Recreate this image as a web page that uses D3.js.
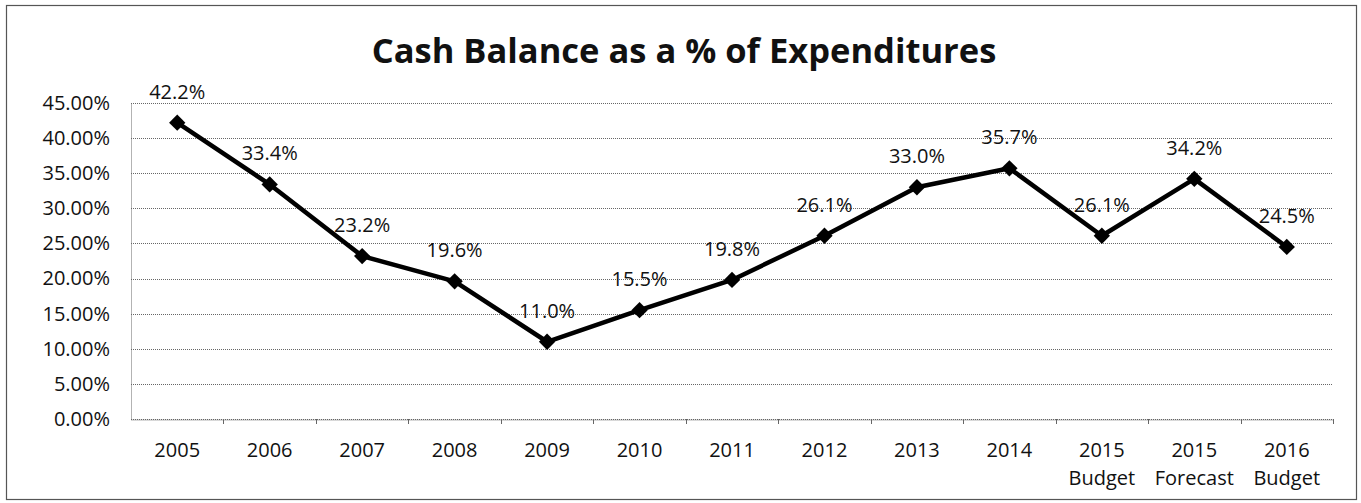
<!DOCTYPE html>
<html>
<head>
<meta charset="utf-8">
<script src="https://cdn.jsdelivr.net/npm/d3@7"></script>
<style>
  body { margin: 0; background: #fff; }
  text { font-family: "Open Sans", Lato, sans-serif; fill: #111; }
</style>
</head>
<body>
<svg id="chart" width="1361" height="503"></svg>
<script>
// chart data
const categories = ['2005', '2006', '2007', '2008', '2009', '2010', '2011', '2012', '2013', '2014',
  '2015\nBudget', '2015\nForecast', '2016\nBudget'];
const values = [42.2, 33.4, 23.2, 19.6, 11.0, 15.5, 19.8, 26.1, 33.0, 35.7, 26.1, 34.2, 24.5];
const yTicks = [0, 5, 10, 15, 20, 25, 30, 35, 40, 45];
const title = 'Cash Balance as a % of Expenditures';

const svg = d3.select('#chart');
const plot = {left: 131, right: 1333, top: 103, bottom: 419};

// outer frame
svg.append('rect')
  .attr('x', 6.5).attr('y', 5.5)
  .attr('width', 1350).attr('height', 494)
  .attr('fill', 'none').attr('stroke', '#555').attr('stroke-width', 1.2);

svg.append('text')
  .attr('x', 684).attr('y', 63)
  .attr('text-anchor', 'middle')
  .style('font-size', '34.5px').style('font-weight', 'bold')
  .text(title);

const x = d3.scaleBand().domain(categories).range([plot.left, plot.right]);
const y = d3.scaleLinear().domain([0, 45]).range([plot.bottom, plot.top]);

// horizontal gridlines
svg.append('g').selectAll('line')
  .data(yTicks)
  .join('line')
  .attr('x1', plot.left).attr('x2', plot.right)
  .attr('y1', d => Math.round(y(d)) + 0.5).attr('y2', d => Math.round(y(d)) + 0.5)
  .attr('stroke', '#666').attr('stroke-dasharray', '1,1');

// y axis
const yAxis = svg.append('g')
  .attr('transform', `translate(${plot.left},0)`)
  .call(d3.axisLeft(y).tickValues(yTicks).tickSize(0).tickPadding(21)
    .tickFormat(d => d.toFixed(2) + '%'));
yAxis.select('.domain').attr('stroke', '#666').attr('stroke-dasharray', '1,1');
yAxis.selectAll('text').style('font-size', '20px').style('font-family', '"Open Sans", sans-serif');

// x axis
const xAxis = svg.append('g')
  .attr('transform', `translate(0,${Math.round(plot.bottom) + 0.5})`)
  .call(d3.axisBottom(x).tickSize(0).tickFormat(''));
xAxis.select('.domain').attr('stroke', '#666').attr('stroke-dasharray', '1,1');

// category boundary ticks
svg.append('g').selectAll('line')
  .data(categories)
  .join('line')
  .attr('x1', d => Math.round(x(d) + x.bandwidth()) + 0.5)
  .attr('x2', d => Math.round(x(d) + x.bandwidth()) + 0.5)
  .attr('y1', plot.bottom).attr('y2', plot.bottom + 5)
  .attr('stroke', '#666');

// category labels (two lines for some)
const xl = svg.append('g').selectAll('text')
  .data(categories)
  .join('text')
  .attr('text-anchor', 'middle')
  .attr('x', d => x(d) + x.bandwidth() / 2)
  .attr('y', 457)
  .style('font-size', '20px');
xl.selectAll('tspan')
  .data(d => d.split('\n'))
  .join('tspan')
  .attr('x', function() { return this.parentNode.getAttribute('x'); })
  .attr('dy', (d, i) => i === 0 ? 0 : 28)
  .text(d => d);

const cx = (d, i) => x(categories[i]) + x.bandwidth() / 2;

// series line
svg.append('path')
  .datum(values)
  .attr('fill', 'none')
  .attr('stroke', '#000')
  .attr('stroke-width', 4.5)
  .attr('stroke-linejoin', 'round')
  .attr('d', d3.line().x(cx).y(d => y(d)));

// diamond markers
svg.append('g').selectAll('path')
  .data(values)
  .join('path')
  .attr('transform', (d, i) => `translate(${cx(d, i)},${y(d)})`)
  .attr('d', d3.symbol(d3.symbolDiamond2, 170))
  .attr('fill', '#000');

// data labels
svg.append('g').selectAll('text')
  .data(values)
  .join('text')
  .attr('text-anchor', 'middle')
  .attr('x', cx)
  .attr('y', d => y(d) - 24)
  .style('font-size', '20px')
  .text(d => d.toFixed(1) + '%');
</script>
</body>
</html>
